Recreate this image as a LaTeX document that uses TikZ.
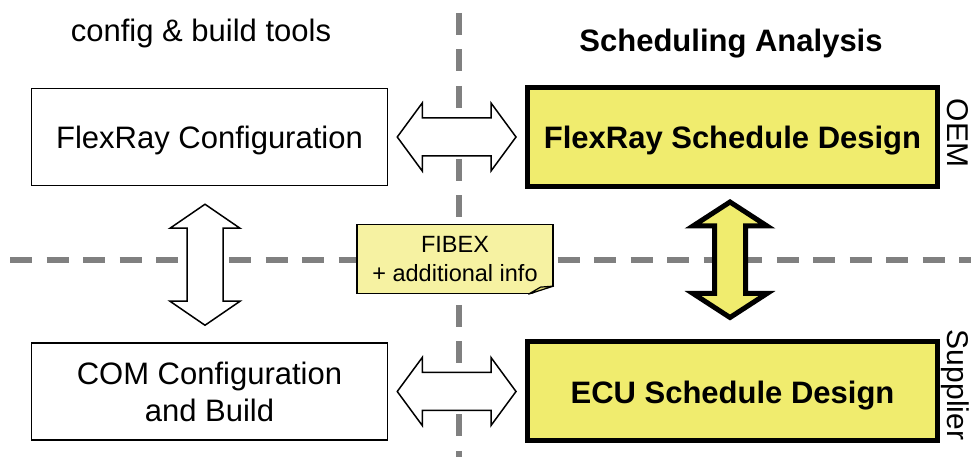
\documentclass[tikz,border=0pt]{standalone}
\usepackage{fontspec}
\setmainfont{Liberation Sans}
\usetikzlibrary{calc}
\definecolor{schedfill}{RGB}{240,236,110}
\definecolor{notefill}{RGB}{246,242,162}
\definecolor{foldfill}{RGB}{226,221,120}
\definecolor{divgray}{RGB}{128,128,128}
\tikzstyle{toolblock} = [rectangle, draw, line width=1.5pt, minimum width=356pt, minimum height=97pt, align=center, font=\fontsize{31}{37}\selectfont]
\tikzstyle{schedblock} = [rectangle, draw, fill=schedfill, line width=5pt, minimum width=410pt, minimum height=99pt, text height=30pt, align=center, font=\bfseries\fontsize{31}{37}\selectfont]
\tikzstyle{noteblock} = [rectangle, draw, fill=notefill, line width=1.2pt, minimum width=196pt, minimum height=69pt, align=center, font=\fontsize{23.5}{29}\selectfont]
\tikzstyle{divider} = [divgray, line width=6pt, dash pattern=on 22pt off 14.5pt]
\tikzstyle{plainarrow} = [draw, fill=white, line width=1.5pt]
\tikzstyle{fatarrow} = [draw, fill=schedfill, line width=5pt]
\tikzstyle{heading} = [font=\fontsize{31}{37}\selectfont, anchor=base]
\tikzstyle{sidelabel} = [font=\fontsize{30}{36}\selectfont, anchor=base, rotate=-90]

% hollow double arrows between two tips
\newcommand{\harrow}[3]{%
  \draw[#1] let \p1=(#2), \p2=(#3) in
    (\x1,\y1) -- (\x1+25pt,\y1+34pt) -- (\x1+25pt,\y1+19pt) -- (\x2-25pt,\y1+19pt)
    -- (\x2-25pt,\y1+34pt) -- (\x2,\y1) -- (\x2-25pt,\y1-34pt) -- (\x2-25pt,\y1-19pt)
    -- (\x1+25pt,\y1-19pt) -- (\x1+25pt,\y1-34pt) -- cycle;}
\newcommand{\varrow}[5]{%
  \draw[#1] let \p1=(#2), \p2=(#3) in
    (\x1,\y1) -- (\x1+#4,\y1-24pt) -- (\x1+#5,\y1-24pt) -- (\x1+#5,\y2+24pt)
    -- (\x1+#4,\y2+24pt) -- (\x1,\y2) -- (\x1-#4,\y2+24pt) -- (\x1-#5,\y2+24pt)
    -- (\x1-#5,\y1-24pt) -- (\x1-#4,\y1-24pt) -- cycle;}

\begin{document}
\begin{tikzpicture}[x=1pt, y=1pt, node distance=523pt]
   \useasboundingbox (0,0) rectangle (971,457);
   % dividers
   \draw[divider] (459,444) -- (459,0);
   \draw[divider] (10,197) -- (971,197);

   % headings
   \node[heading] (tools) at (201,415) {config \& build tools};
   \node[heading, font=\bfseries\fontsize{31}{37}\selectfont] (analysis) at (731,405) {Scheduling Analysis};
   \node[sidelabel] (oem) at (947,324) {OEM};
   \node[sidelabel] (supplier) at (947,72) {Supplier};

   % nodes
   \node[toolblock, text height=30pt] (conf) at (209.5,320)     {FlexRay Configuration};
   \node[schedblock] (sched) [right of=conf]                    {FlexRay Schedule Design};
   \node[toolblock] (com) [node distance=254.5pt, below of=conf] {COM Configuration\\and Build};
   \node[schedblock] (ecu) [right of=com]                       {ECU Schedule Design};
   \node[noteblock] (fibex) at (455,198)                        {FIBEX\\+ additional info};
   \fill[white] ([xshift=-25pt,yshift=-1pt]fibex.south east) -- ([xshift=1pt,yshift=-1pt]fibex.south east) -- ([xshift=1pt,yshift=8pt]fibex.south east) -- cycle;
   \draw[line width=1.2pt, fill=foldfill, line join=round] ([xshift=-25pt]fibex.south east) -- ([xshift=-13pt,yshift=7pt]fibex.south east) -- ([yshift=8pt]fibex.south east) -- cycle;

   % edges
   \harrow{plainarrow}{[xshift=9pt]conf.east}{[xshift=-9pt]sched.west}
   \harrow{plainarrow}{[xshift=9pt]com.east}{[xshift=-9pt]ecu.west}
   \varrow{plainarrow}{[xshift=-4.5pt,yshift=-18pt]conf.south}{[yshift=17pt]com.north}{35pt}{18pt}
   \varrow{fatarrow}{[xshift=-2.5pt,yshift=-13pt]sched.south}{[yshift=22pt]ecu.north}{37pt}{15.5pt}
\end{tikzpicture}
\end{document}
